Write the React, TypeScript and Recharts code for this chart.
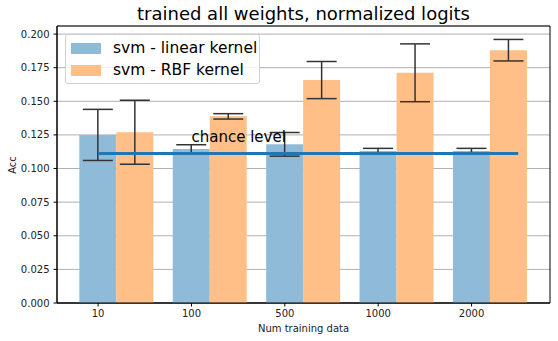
import {
  BarChart,
  Bar,
  XAxis,
  YAxis,
  CartesianGrid,
  ErrorBar,
  ReferenceLine,
  ReferenceArea,
  ReferenceDot,
} from "recharts";

// data
const CATEGORIES = ["10", "100", "500", "1000", "2000"];
const LINEAR_ACC = [0.125, 0.1145, 0.118, 0.113, 0.113];
const LINEAR_ERR = [0.019, 0.0032, 0.0088, 0.002, 0.002];
const RBF_ACC = [0.127, 0.1388, 0.1658, 0.1712, 0.188];
const RBF_ERR = [0.0238, 0.002, 0.0138, 0.0215, 0.008];
const Y_TICKS = [0, 0.025, 0.05, 0.075, 0.1, 0.125, 0.15, 0.175, 0.2];
const CHANCE = 1 / 9;

const SERIES = [
  { key: "linear", label: "svm - linear kernel", color: "#8fbbd9" },
  { key: "rbf", label: "svm - RBF kernel", color: "#ffbf86" },
];

const data = CATEGORIES.map((c, i) => ({
  name: c,
  pos: i,
  linear: LINEAR_ACC[i],
  linearErr: LINEAR_ERR[i],
  rbf: RBF_ACC[i],
  rbfErr: RBF_ERR[i],
}));

const FONT = "'DejaVu Sans', sans-serif";
const X_DOMAIN: [number, number] = [-0.44, 4.84];
const Y_MAX = 0.206;

export default function App() {
  return (
    <div
      style={{
        position: "absolute",
        left: 0,
        top: 0,
        width: 558,
        height: 341,
        background: "#fff",
        fontFamily: FONT,
      }}>
      <BarChart
        width={558}
        height={341}
        data={data}
        margin={{ top: 26, right: 8, left: 0, bottom: 0 }}
        barGap={0}
        barCategoryGap="10%">
        <CartesianGrid
          xAxisId="num"
          vertical={false}
          stroke="#b0b0b0"
          strokeWidth={1}
        />
        <XAxis
          xAxisId="num"
          dataKey="pos"
          type="number"
          domain={X_DOMAIN}
          allowDataOverflow
          ticks={[0, 1, 2, 3, 4]}
          tickFormatter={(v: number) => CATEGORIES[v]}
          height={38}
          stroke="#000"
          tickSize={3.5}
          tickMargin={3}
          tick={{ fontSize: 10, fill: "#222", fontFamily: FONT }}
        />
        <XAxis
          xAxisId="cat"
          dataKey="name"
          hide
          height={0}
          padding={{ left: 13, right: 13 }}
        />
        <YAxis
          width={57}
          domain={[0, Y_MAX]}
          allowDataOverflow
          ticks={Y_TICKS}
          tickFormatter={(v: number) => v.toFixed(3)}
          stroke="#000"
          tickSize={3.5}
          tickMargin={4}
          tick={{ fontSize: 10, fill: "#222", fontFamily: FONT }}
        />
        {SERIES.map((s) => (
          <Bar
            key={s.key}
            xAxisId="cat"
            dataKey={s.key}
            fill={s.color}
            isAnimationActive={false}>
            <ErrorBar
              dataKey={s.key + "Err"}
              width={15}
              stroke="#333"
              strokeWidth={1.5}
              direction="y"
              isAnimationActive={false}
            />
          </Bar>
        ))}
        <ReferenceLine
          xAxisId="num"
          segment={[
            { x: 0, y: CHANCE },
            { x: 4.5, y: CHANCE },
          ]}
          stroke="#1f77b4"
          strokeWidth={3}
        />
        <ReferenceDot
          xAxisId="num"
          x={1}
          y={0.12}
          r={1}
          fill="none"
          stroke="none"
          label={{
            content: (p: any) => (
              <text
                x={p.viewBox.x + 1}
                y={p.viewBox.y + 1}
                fontSize={15}
                fontFamily={FONT}
                fill="#000">
                chance level
              </text>
            ),
          }}
        />
        <ReferenceArea
          xAxisId="num"
          x1={X_DOMAIN[0]}
          x2={X_DOMAIN[1]}
          y1={0}
          y2={Y_MAX}
          fill="none"
          stroke="#000"
          strokeWidth={1}
          fillOpacity={0}
        />
      </BarChart>

      <div
        style={{
          position: "absolute",
          left: 57,
          width: 493,
          top: 3,
          textAlign: "center",
          fontSize: 18,
          lineHeight: "22px",
          color: "#000",
        }}>
        trained all weights, normalized logits
      </div>
      <div
        style={{
          position: "absolute",
          left: 57,
          width: 493,
          top: 322,
          textAlign: "center",
          fontSize: 10,
          lineHeight: "13px",
          color: "#222",
        }}>
        Num training data
      </div>
      <div
        style={{
          position: "absolute",
          left: 12,
          top: 165,
          transform: "translate(-50%, -50%) rotate(-90deg)",
          fontSize: 10,
          lineHeight: "13px",
          color: "#222",
        }}>
        Acc
      </div>

      <div
        style={{
          position: "absolute",
          left: 65,
          top: 34,
          width: 193,
          height: 48,
          border: "1px solid #d0d0d0",
          borderRadius: 3,
          background: "rgba(255,255,255,0.8)",
          fontSize: 15.5,
          color: "#000",
        }}>
        {SERIES.map((s, i) => (
          <div
            key={s.key}
            style={{
              position: "absolute",
              left: 5,
              top: 3 + i * 22,
              height: 20,
              display: "flex",
              alignItems: "center",
              whiteSpace: "nowrap",
            }}>
            <span
              style={{
                display: "inline-block",
                width: 30,
                height: 11,
                background: s.color,
                marginRight: 12,
              }}
            />
            {s.label}
          </div>
        ))}
      </div>
    </div>
  );
}
